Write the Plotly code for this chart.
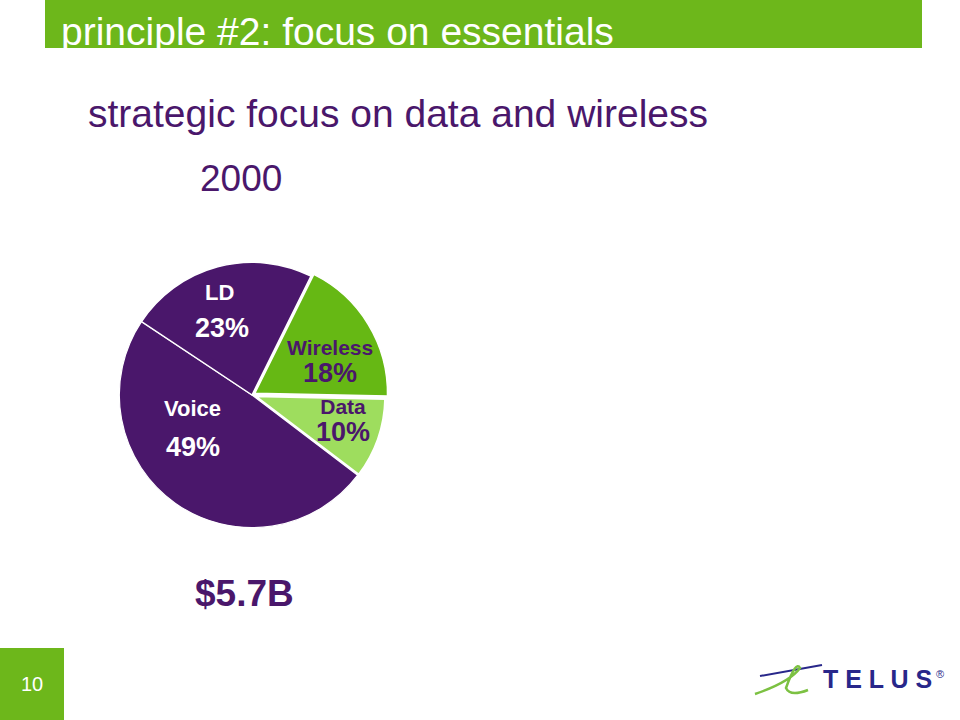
import plotly.graph_objects as go

categories = ["Wireless", "Data", "Voice", "LD"]
values = [18, 10, 49, 23]
slice_colors = ["#66B814", "#9EDD5E", "#4A176B", "#4A176B"]
label_colors = ["#4A176B", "#4A176B", "white", "white"]
pulls = [0.025, 0.01, 0, 0]

title_text = "principle #2: focus on essentials"
subtitle_text = "strategic focus on data and wireless"
year_text = "2000"
total_text = "$5.7B"
page_text = "10"

PURPLE = "#4A176B"
GREEN = "#6DB71B"
FONT = "Liberation Sans, Arial, sans-serif"

fig = go.Figure()
fig.add_trace(go.Pie(
    labels=categories, values=values, sort=False, direction="clockwise",
    rotation=26.4, pull=pulls,
    marker=dict(colors=slice_colors, line=dict(color="white", width=[1.5, 3.5, 1.2, 1.5])),
    textinfo="none", hoverinfo="label+percent", showlegend=False,
    domain=dict(x=[116/960, 388/960], y=[1-531/720, 1-259/720]),
))

W, H = 960, 720
def px(x, y):
    return x / W, 1 - y / H

total = sum(values)
anns = []

def txt(s, x, y, size, color, anchor="left", bold=False):
    xx, yy = px(x, y)
    anns.append(dict(x=xx, y=yy, xref="paper", yref="paper", xanchor=anchor, yanchor="middle",
                     text=f"<b>{s}</b>" if bold else s, showarrow=False,
                     font=dict(family=FONT, size=size, color=color)))

# label layout: (name centre, percent centre) or combined centre when stacked tightly
combined = {"Wireless": (330, 362), "Data": (343, 421)}
split = {"LD": ((219, 292), (222, 328)), "Voice": ((192, 408), (193, 447))}
for cat, v, col in zip(categories, values, label_colors):
    pct = f"{round(v / total * 100)}%"
    if cat in combined:
        x, y = px(*combined[cat])
        anns.append(dict(x=x, y=y, xref="paper", yref="paper", showarrow=False,
                         text=f"<b>{cat}</b><br><span style='font-size:27px'><b>{pct}</b></span>",
                         font=dict(family=FONT, size=21, color=col)))
    else:
        (nx, ny), (qx, qy) = split[cat]
        txt(cat, nx, ny, 22, col, anchor="center", bold=True)
        txt(pct, qx, qy, 27, col, anchor="center", bold=True)

txt(title_text, 59, 32, 39, "white")
txt(subtitle_text, 86, 113, 39, PURPLE)
txt(year_text, 198, 178, 37, PURPLE)
txt(total_text, 193, 593, 37, PURPLE, bold=True)
txt(page_text, 32, 684, 20, "white", anchor="center")
txt("T E L U S", 821, 679, 25, "#28278A", bold=True)
txt("®", 934, 674, 11, "#28278A")

shapes = [
    dict(type="rect", xref="paper", yref="paper", x0=45/W, x1=922/W, y0=1-48/H, y1=1,
         fillcolor=GREEN, line=dict(width=0), layer="below"),
    dict(type="rect", xref="paper", yref="paper", x0=0, x1=64/W, y0=0, y1=1-648/H,
         fillcolor=GREEN, line=dict(width=0), layer="below"),
    # logo swoosh lines
    dict(type="line", xref="paper", yref="paper", x0=760/W, y0=1-676/H, x1=822/W, y1=1-665/H,
         line=dict(color="#28278A", width=2)),
    dict(type="path", xref="paper", yref="paper",
         path=f"M {755/W},{1-694/H} Q {790/W},{1-682/H} {800/W},{1-668/H} Q {796/W},{1-660/H} {786/W},{1-688/H} Q {790/W},{1-697/H} {808/W},{1-690/H}",
         line=dict(color="#7CC142", width=2.5)),
]

fig.update_layout(width=W, height=H, margin=dict(l=0, r=0, t=0, b=0),
                  paper_bgcolor="white", plot_bgcolor="white",
                  annotations=anns, shapes=shapes)
fig.write_html("out.html", config={"displayModeBar": False},
               post_script="document.body.style.margin='0';document.body.style.overflow='hidden';")
